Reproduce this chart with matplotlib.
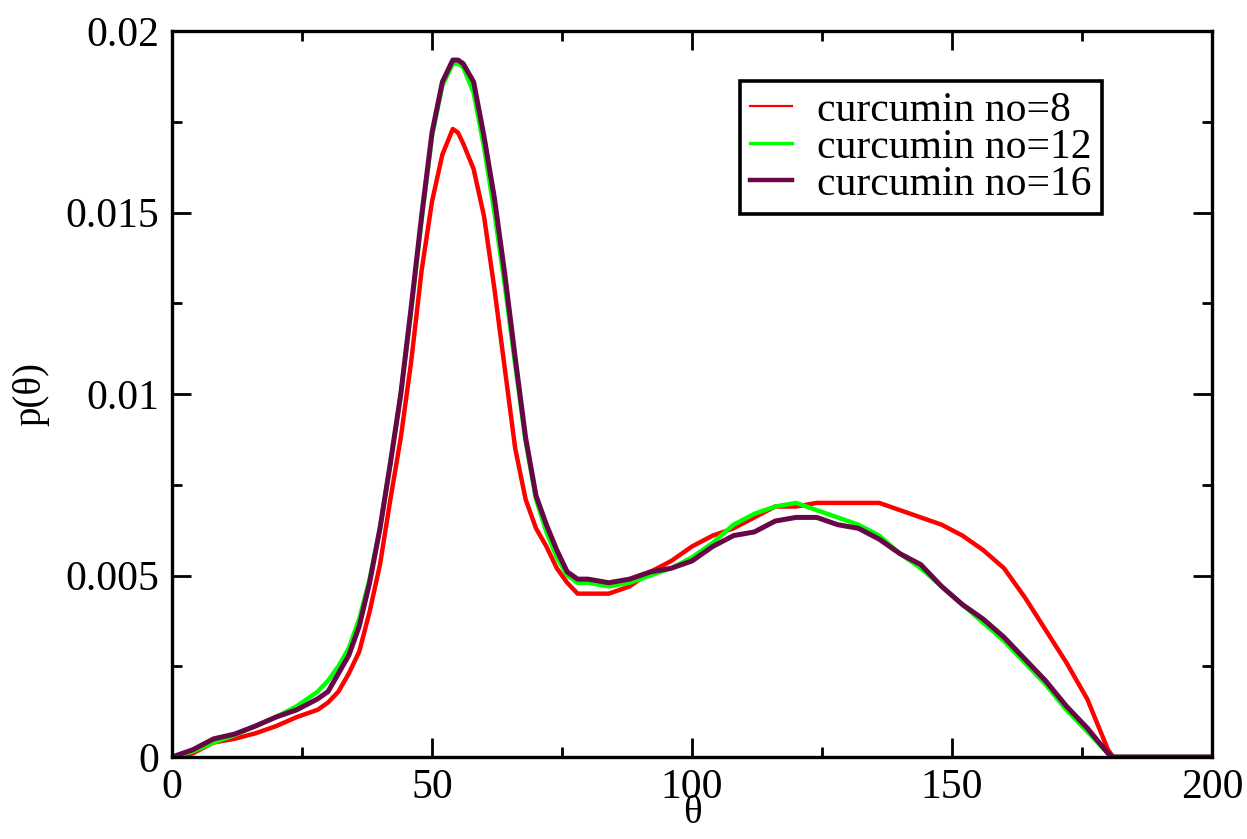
import matplotlib
matplotlib.use('Agg')
import matplotlib.pyplot as plt
from matplotlib.ticker import MultipleLocator

# data
theta = [0, 4, 8, 12, 16, 20, 24, 28, 30, 32, 34, 36, 38, 40, 42, 44, 46, 48, 50,
         52, 54, 55, 56, 58, 60, 62, 64, 66, 68, 70, 72, 74, 76, 78, 80, 84, 88,
         92, 96, 100, 104, 108, 112, 116, 120, 124, 128, 132, 136, 140, 144, 148,
         152, 156, 160, 164, 168, 172, 176, 180, 181, 200]

p_no8 = [0, 0.0001, 0.0004, 0.0005, 0.00065, 0.00085, 0.0011, 0.0013, 0.0015, 0.0018,
         0.0023, 0.0029, 0.0040, 0.0053, 0.0071, 0.0088, 0.0109, 0.0134, 0.0153,
         0.0166, 0.0173, 0.0172, 0.0169, 0.0162, 0.0149, 0.0129, 0.0107, 0.0085, 0.0071,
         0.0063, 0.0058, 0.0052, 0.0048, 0.0045, 0.0045, 0.0045, 0.0047,
         0.0051, 0.0054, 0.0058, 0.0061, 0.0063, 0.0066, 0.0069, 0.0069, 0.0070, 0.0070,
         0.0070, 0.0070, 0.0068, 0.0066, 0.0064, 0.0061, 0.0057, 0.0052, 0.0044, 0.0035,
         0.0026, 0.0016, 0.0002, 0, 0]

p_no12 = [0, 0.00015, 0.0004, 0.0006, 0.00085, 0.0011, 0.0014, 0.0018, 0.0021, 0.0025,
          0.0030, 0.0038, 0.0049, 0.0063, 0.0081, 0.0100, 0.0123, 0.0148, 0.0171,
          0.0185, 0.0191, 0.0191, 0.0190, 0.0183, 0.0168, 0.0150, 0.0130, 0.0108, 0.0087,
          0.0071, 0.0062, 0.0055, 0.0050, 0.0048, 0.0048, 0.0047, 0.0048,
          0.0050, 0.0052, 0.0055, 0.0059, 0.0064, 0.0067, 0.0069, 0.0070, 0.0068, 0.0066,
          0.0064, 0.0061, 0.0056, 0.0052, 0.0047, 0.0042, 0.0037, 0.0032, 0.0026, 0.0020,
          0.0013, 0.0007, 0.0001, 0, 0]

p_no16 = [0, 0.0002, 0.0005, 0.00063, 0.00085, 0.0011, 0.0013, 0.0016, 0.0018, 0.0023,
          0.0028, 0.0036, 0.0048, 0.0063, 0.0081, 0.0100, 0.0124, 0.0149, 0.0172,
          0.0186, 0.0192, 0.0192, 0.0191, 0.0186, 0.0171, 0.0154, 0.0133, 0.0110, 0.0088,
          0.0072, 0.0064, 0.0057, 0.0051, 0.0049, 0.0049, 0.0048, 0.0049,
          0.0051, 0.0052, 0.0054, 0.0058, 0.0061, 0.0062, 0.0065, 0.0066, 0.0066, 0.0064,
          0.0063, 0.0060, 0.0056, 0.0053, 0.0047, 0.0042, 0.0038, 0.0033, 0.0027, 0.0021,
          0.0014, 0.0008, 0.0001, 0, 0]

labels = ['curcumin no=8', 'curcumin no=12', 'curcumin no=16']
colors = ['#ff0000', '#00ff00', '#670748']

plt.rcParams['font.family'] = ['Liberation Serif', 'DejaVu Serif']

fig = plt.figure(figsize=(12.47, 8.39), dpi=100)
ax = fig.add_axes([172/1247, 82/839, 1040/1247, 726/839])

ax.plot(theta, p_no8, color=colors[0], lw=3.2, label=labels[0])
ax.plot(theta, p_no12, color=colors[1], lw=3.2, label=labels[1])
ax.plot(theta, p_no16, color=colors[2], lw=3.6, label=labels[2])

ax.set_xlim(0, 200)
ax.set_ylim(0, 0.02)
ax.xaxis.set_major_locator(MultipleLocator(50))
ax.xaxis.set_minor_locator(MultipleLocator(25))
ax.yaxis.set_minor_locator(MultipleLocator(0.0025))
ax.set_yticks([0, 0.005, 0.01, 0.015, 0.02])
ax.set_yticklabels(['0', '0.005', '0.01', '0.015', '0.02'])

ax.tick_params(which='both', direction='in', top=True, right=True, width=2)
ax.tick_params(which='major', length=14, labelsize=30)
ax.tick_params(axis='x', which='major', pad=8)
ax.tick_params(axis='y', which='major', pad=9)
ax.tick_params(which='minor', length=7)
for s in ax.spines.values():
    s.set_linewidth(2.4)

ax.set_xlabel('θ', fontsize=28)
ax.xaxis.set_label_coords(0.5, -0.053)
ax.set_ylabel('p(θ)', fontsize=28, labelpad=12)

leg = ax.legend(loc='upper left', bbox_to_anchor=(740/1247, 1-81/839),
                bbox_transform=fig.transFigure, borderaxespad=0,
                fontsize=30, labelspacing=-0.04, handlelength=1.0,
                handletextpad=0.6, borderpad=0.25, fancybox=False,
                edgecolor='black', framealpha=1)
leg.get_frame().set_linewidth(2.6)
for h, w in zip(leg.get_lines(), [1.6, 2.4, 3.2]):
    h.set_linewidth(w)

fig.savefig('out.png', dpi=100)
